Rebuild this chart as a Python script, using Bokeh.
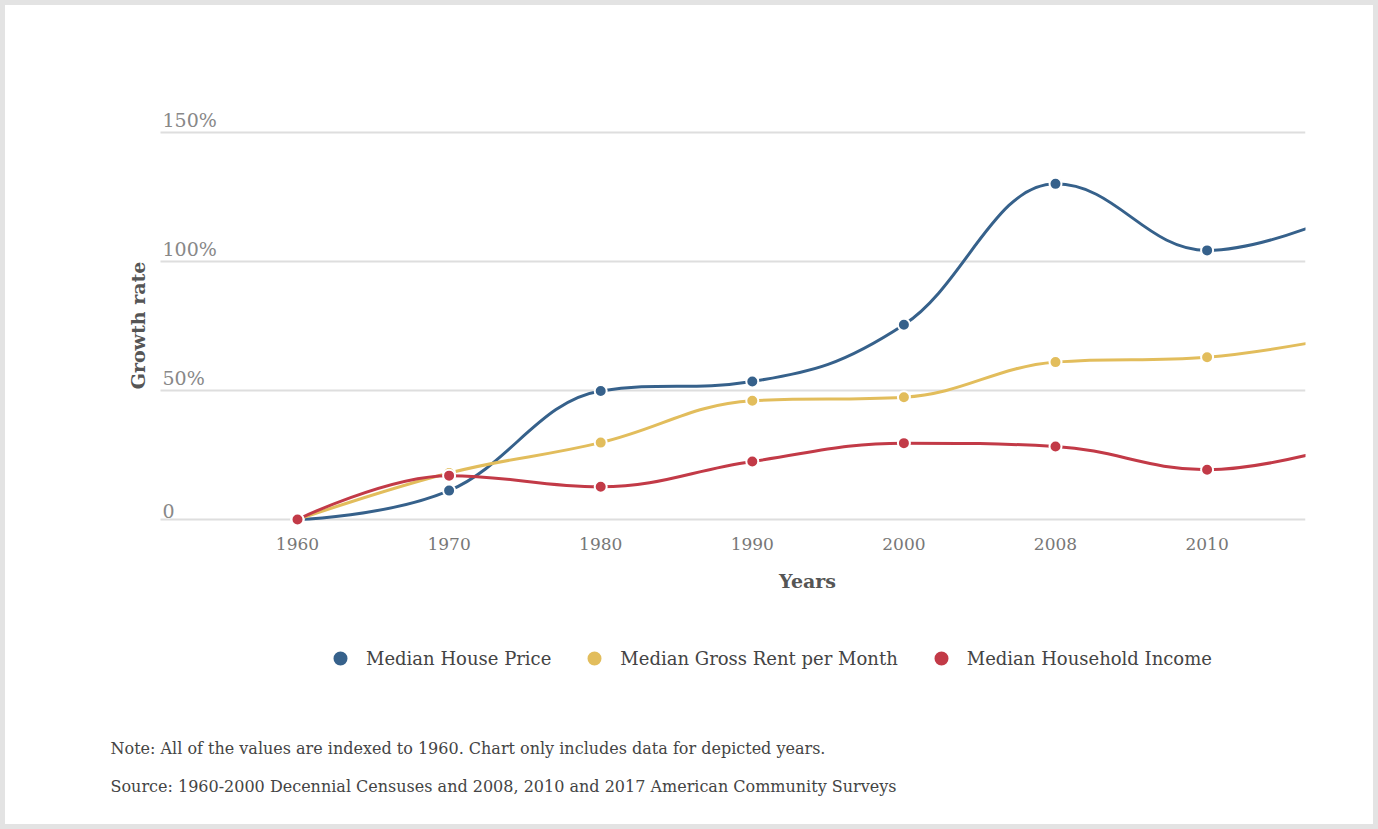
import math
from bokeh.plotting import figure
from bokeh.core.properties import value
from bokeh.models import (Label, LabelSet, ColumnDataSource, Legend, LegendItem, Range1d)
from bokeh.embed import file_html
from bokeh.resources import INLINE

# ---------------- data ----------------
years = ["1960", "1970", "1980", "1990", "2000", "2008", "2010", "2017"]
house_price = [0, 11.2, 49.8, 53.5, 75.5, 130.1, 104.3, 121.0]
gross_rent = [0, 18.0, 29.8, 46.0, 47.4, 61.0, 62.9, 72.0]
household_income = [0, 17.0, 12.7, 22.5, 29.6, 28.3, 19.3, 30.3]
series_names = ["Median House Price", "Median Gross Rent per Month", "Median Household Income"]
series_colors = ["#36618b", "#e2bd5c", "#c23a47"]
ytick_values = [0, 50, 100, 150]
ytick_labels = ["0", "50%", "100%", "150%"]
y_title = "Growth rate"
x_title = "Years"
note_text = "Note: All of the values are indexed to 1960. Chart only includes data for depicted years."
source_text = "Source: 1960-2000 Decennial Censuses and 2008, 2010 and 2017 American Community Surveys"

FONT = "DejaVu Serif"


def spline_segments(xs, ys, smoothing=1.5):
    """Highcharts-style spline: cubic bezier control points for each segment."""
    n = len(xs)
    denom = smoothing + 1
    left = [(xs[i], ys[i]) for i in range(n)]
    right = [(xs[i], ys[i]) for i in range(n)]
    for i in range(1, n - 1):
        px, py = xs[i], ys[i]
        lx, ly = xs[i - 1], ys[i - 1]
        nx, ny = xs[i + 1], ys[i + 1]
        lcx = (smoothing * px + lx) / denom
        lcy = (smoothing * py + ly) / denom
        rcx = (smoothing * px + nx) / denom
        rcy = (smoothing * py + ny) / denom
        if rcx != lcx:
            corr = ((rcy - lcy) * (rcx - px)) / (rcx - lcx) + py - rcy
            lcy += corr
            rcy += corr
        if lcy > ly and lcy > py:
            lcy = max(ly, py)
            rcy = 2 * py - lcy
        elif lcy < ly and lcy < py:
            lcy = min(ly, py)
            rcy = 2 * py - lcy
        if rcy > ny and rcy > py:
            rcy = max(ny, py)
            lcy = 2 * py - rcy
        elif rcy < ny and rcy < py:
            rcy = min(ny, py)
            lcy = 2 * py - rcy
        left[i] = (lcx, lcy)
        right[i] = (rcx, rcy)
    d = dict(x0=[], y0=[], x1=[], y1=[], cx0=[], cy0=[], cx1=[], cy1=[])
    for i in range(1, n):
        d["x0"].append(xs[i - 1]); d["y0"].append(ys[i - 1])
        d["cx0"].append(right[i - 1][0]); d["cy0"].append(right[i - 1][1])
        d["cx1"].append(left[i][0]); d["cy1"].append(left[i][1])
        d["x1"].append(xs[i]); d["y1"].append(ys[i])
    return d


# ---------------- layout constants (pixels in the page) ----------------
PAD = 5                       # grey page frame
W, H = 1378 - 2 * PAD, 829 - 2 * PAD
FR_L, FR_R, FR_T, FR_B = 105, 1305, 100, 810   # plot frame (page coords)
X0_PX, X_STEP = 297.0, 151.6  # page x of first category, px per category
Y0_PX, Y_STEP = 519.0, 2.58   # page y of 0 %, px per 1 %
GRID_L = 160                  # grid lines start here

x_start = (FR_L - X0_PX) / X_STEP
x_end = (FR_R - X0_PX) / X_STEP
y_start = -(FR_B - Y0_PX) / Y_STEP
y_end = y_start + (FR_B - FR_T) / Y_STEP
grid_x0 = (GRID_L - X0_PX) / X_STEP


def sx(px):  # page x -> screen units relative to frame
    return px - FR_L


def sy(py):  # page y -> screen units relative to frame bottom
    return FR_B - py


p = figure(width=W, height=H, output_backend="svg", toolbar_location=None,
           x_range=Range1d(x_start, x_end), y_range=Range1d(y_start, y_end),
           min_border_left=FR_L - PAD, min_border_right=W - (FR_R - PAD),
           min_border_top=FR_T - PAD, min_border_bottom=H - (FR_B - PAD),
           margin=(PAD, PAD, PAD, PAD),
           styles={"outline": "5px solid #e3e3e3"})
p.title = None
p.axis.visible = False
p.grid.visible = False
p.outline_line_color = None
p.background_fill_color = "white"
p.border_fill_color = "white"

xpos = list(range(len(years)))

# horizontal grid lines
p.segment(x0=grid_x0, y0=ytick_values, x1=x_end, y1=ytick_values,
          line_color="#dedede", line_width=2)

# y tick labels, above the grid lines
ysrc = ColumnDataSource(dict(y=ytick_values, text=ytick_labels))
p.add_layout(LabelSet(x=grid_x0, y="y", text="text", source=ysrc, x_offset=2,
                      y_offset=2, text_baseline="bottom", text_align="left",
                      text_font=value(FONT), text_font_size=value("19px"),
                      text_color="#888888"))

# x tick labels (only those that fall inside the visible range)
shown = [i for i in xpos if i <= x_end]
xsrc = ColumnDataSource(dict(x=shown, text=[years[i] for i in shown]))
p.add_layout(LabelSet(x="x", y=ytick_values[0], text="text", source=xsrc,
                      y_offset=-24, text_baseline="middle", text_align="center",
                      text_font=value(FONT), text_font_size=value("17px"),
                      text_color="#777777"))

marker_renderers = []
for vals, col in zip([house_price, gross_rent, household_income], series_colors):
    seg = spline_segments(xpos, vals)
    p.bezier(source=ColumnDataSource(seg), x0="x0", y0="y0", x1="x1", y1="y1",
             cx0="cx0", cy0="cy0", cx1="cx1", cy1="cy1",
             line_color=col, line_width=3, line_cap="round")
    r = p.scatter(x=xpos, y=vals, size=12, fill_color=col, line_color="white", line_width=2)
    marker_renderers.append(r)

legend_items = [LegendItem(label=name, renderers=[r])
                for name, r in zip(series_names, marker_renderers)]
legend = Legend(items=legend_items, orientation="horizontal", location=(sx(320), sy(678)),
                glyph_width=40, glyph_height=40, label_standoff=6, spacing=23,
                padding=0, margin=0, border_line_color=None, background_fill_alpha=0,
                label_text_font=FONT, label_text_font_size="18px", label_text_color="#444444")
p.add_layout(legend)

# axis titles
p.add_layout(Label(x=sx(137), y=sy(325), x_units="screen", y_units="screen", text=y_title,
                   angle=math.pi / 2, text_align="center", text_baseline="middle",
                   text_font=FONT, text_font_style="bold", text_font_size="19px",
                   text_color="#555555"))
p.add_layout(Label(x=sx(807), y=sy(580), x_units="screen", y_units="screen", text=x_title,
                   text_align="center", text_baseline="middle",
                   text_font=FONT, text_font_style="bold", text_font_size="19px",
                   text_color="#555555"))

# notes
p.add_layout(Label(x=sx(110), y=sy(748), x_units="screen", y_units="screen", text=note_text,
                   text_align="left", text_baseline="middle",
                   text_font=FONT, text_font_size="16px", text_color="#444444"))
p.add_layout(Label(x=sx(110), y=sy(786), x_units="screen", y_units="screen", text=source_text,
                   text_align="left", text_baseline="middle",
                   text_font=FONT, text_font_size="16px", text_color="#444444"))

open("out.html", "w").write(file_html(p, INLINE))
